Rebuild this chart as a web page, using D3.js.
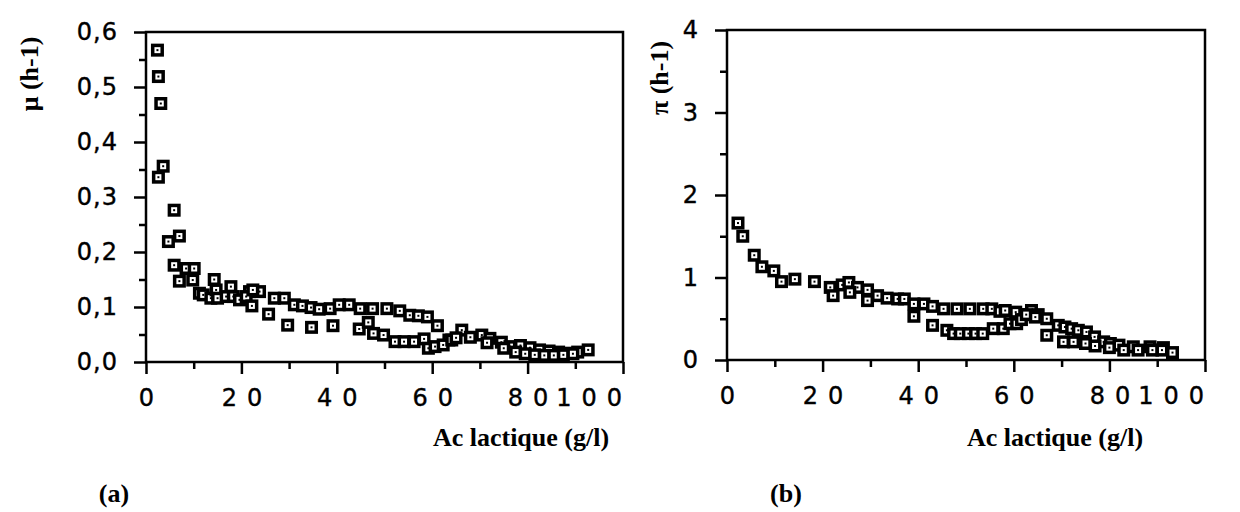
<!DOCTYPE html>
<html><head><meta charset="utf-8">
<script src="https://cdn.jsdelivr.net/npm/d3@7"></script>
<style>
html,body{margin:0;padding:0;background:#fff;}
svg{display:block;}
</style></head>
<body>
<svg id="chart" width="1240" height="512"></svg>
<script>
// ---------- DATA ----------
// Panel (a): mu (h-1) vs acide lactique (g/l), two runs
const muRun1 = [[2.4,0.567],[2.6,0.519],[3.1,0.470],[3.6,0.356],[5.9,0.276],[7.0,0.229],[8.4,0.170],[10.1,0.170],[14.3,0.150],[17.8,0.137],[21.7,0.128],[23.8,0.128],[26.9,0.116],[29.0,0.116],[31.1,0.104],[32.8,0.102],[34.6,0.099],[36.3,0.096],[38.6,0.097],[40.5,0.104],[42.6,0.104],[44.9,0.097],[47.5,0.097],[50.5,0.097],[53.2,0.093],[55.3,0.085],[57.1,0.084],[59.0,0.082],[61.1,0.066],[63.5,0.040],[66.2,0.058],[70.4,0.049],[72.1,0.043],[74.5,0.036],[76.3,0.028],[78.5,0.030],[80.5,0.026],[82.5,0.022],[84.5,0.020],[86.5,0.018],[88.5,0.016],[90.5,0.018],[92.7,0.022]];
const muRun2 = [[2.6,0.336],[4.7,0.219],[5.9,0.176],[7.0,0.147],[9.8,0.149],[11.2,0.125],[12.0,0.122],[13.6,0.116],[14.7,0.131],[15.0,0.116],[16.8,0.119],[18.3,0.119],[19.6,0.113],[21.0,0.119],[22.2,0.102],[22.4,0.131],[25.7,0.087],[29.7,0.067],[34.7,0.063],[39.2,0.066],[44.7,0.060],[46.6,0.072],[47.7,0.052],[49.8,0.049],[52.2,0.037],[54.1,0.037],[56.2,0.037],[58.3,0.042],[59.2,0.025],[60.6,0.028],[62.3,0.031],[64.1,0.040],[65.0,0.044],[68.0,0.045],[71.5,0.035],[75.0,0.025],[77.5,0.018],[79.5,0.015],[81.5,0.013],[83.5,0.012],[85.5,0.012],[87.5,0.013],[89.5,0.015]];
// Panel (b): pi (h-1) vs acide lactique (g/l), two runs
const piRun1 = [[2.3,1.66],[3.3,1.50],[5.7,1.27],[7.3,1.13],[9.8,1.08],[11.4,0.95],[14.2,0.98],[18.3,0.95],[21.6,0.88],[24.1,0.91],[25.5,0.94],[27.3,0.88],[29.4,0.85],[31.5,0.78],[33.5,0.75],[35.7,0.74],[37.1,0.74],[39.1,0.68],[41.2,0.68],[43.0,0.65],[45.3,0.62],[48.1,0.62],[50.8,0.62],[53.6,0.62],[55.4,0.62],[57.1,0.59],[58.2,0.60],[60.4,0.58],[62.3,0.55],[63.7,0.60],[65.1,0.55],[66.9,0.50],[69.3,0.42],[70.7,0.40],[72.1,0.38],[73.5,0.36],[75.2,0.34],[76.9,0.28],[78.8,0.22],[80.2,0.20],[82.0,0.18],[85.0,0.16],[88.5,0.16],[91.3,0.15],[93.2,0.09]];
const piRun2 = [[22.2,0.78],[25.7,0.82],[29.4,0.72],[39.1,0.53],[43.0,0.42],[46.0,0.36],[47.4,0.32],[48.8,0.32],[50.5,0.32],[52.0,0.32],[53.5,0.32],[55.7,0.38],[57.8,0.38],[59.2,0.44],[60.6,0.44],[61.6,0.49],[62.6,0.55],[64.5,0.52],[66.9,0.30],[70.4,0.22],[72.5,0.22],[75.0,0.20],[77.0,0.17],[80.0,0.15],[83.0,0.12],[86.0,0.12],[89.0,0.12],[91.0,0.12]];

const xTicks = [0,20,40,60,80,100];
const xMinor = [10,30,50,70,90];
const muTicks = [0,0.1,0.2,0.3,0.4,0.5,0.6];
const muMinor = [0.05,0.15,0.25,0.35,0.45,0.55];
const piTicks = [0,1,2,3,4];
const piMinor = [0.5,1.5,2.5,3.5];
const xTitle = "Ac lactique (g/l)";
const muTitle = "\u03bc (h-1)";
const piTitle = "\u03c0 (h-1)";
const panelLabels = ["(a)","(b)"];

// ---------- LAYOUT ----------
const svg = d3.select("#chart");
const frFmt = d3.formatLocale({decimal:",",thousands:" ",grouping:[3],currency:["","\u20ac"]});
const fmtMu = frFmt.format(".1f");
const fmtPi = d => String(d);

const panels = [
  {series:[muRun1,muRun2], left:146, right:623, top:32, bottom:362, yDomain:[0,0.6],
   yTicks:muTicks, yMinor:muMinor, yFmt:fmtMu, yTitle:muTitle, yTitleX:29, yTitleY:74,
   xTitleX:521, label:panelLabels[0], labelX:114},
  {series:[piRun1,piRun2], left:727, right:1205, top:30, bottom:360, yDomain:[0,4],
   yTicks:piTicks, yMinor:piMinor, yFmt:fmtPi, yTitle:piTitle, yTitleX:659, yTitleY:78,
   xTitleX:1055, label:panelLabels[1], labelX:786}
];

const tickFont = "'DejaVu Sans', sans-serif";
const serif = "'Liberation Serif', 'Times New Roman', serif";
const xSpacing = 10;

panels.forEach(p => {
  const x = d3.scaleLinear().domain([0,100]).range([p.left,p.right]);
  const y = d3.scaleLinear().domain(p.yDomain).range([p.bottom,p.top]);
  const g = svg.append("g");

  // minor ticks
  g.append("g").attr("transform",`translate(0,${p.bottom})`)
    .call(d3.axisBottom(x).tickValues(xMinor).tickSize(7).tickFormat(""))
    .call(a=>a.select(".domain").remove())
    .call(a=>a.selectAll("line").attr("stroke","#000").attr("stroke-width",2.5));
  g.append("g").attr("transform",`translate(${p.left},0)`)
    .call(d3.axisLeft(y).tickValues(p.yMinor).tickSize(7).tickFormat(""))
    .call(a=>a.select(".domain").remove())
    .call(a=>a.selectAll("line").attr("stroke","#000").attr("stroke-width",2.5));

  // major ticks + labels
  const xa = g.append("g").attr("transform",`translate(0,${p.bottom})`)
    .call(d3.axisBottom(x).tickValues(xTicks).tickSize(12).tickPadding(15).tickFormat(d3.format("d")))
    .call(a=>a.select(".domain").remove())
    .call(a=>a.selectAll("line").attr("stroke","#000").attr("stroke-width",2.5));
  xa.selectAll("text").attr("fill","#000").attr("stroke","#000").attr("stroke-width",0.4)
    .style("font-family",tickFont).style("font-size","24px")
    .style("letter-spacing",xSpacing+"px").attr("dy","0.71em")
    .attr("text-anchor", d => d===100 ? "end" : "middle")
    .attr("dx", d => d===100 ? "8.5px" : (xSpacing/2)+"px");

  const ya = g.append("g").attr("transform",`translate(${p.left},0)`)
    .call(d3.axisLeft(y).tickValues(p.yTicks).tickSize(12).tickPadding(16).tickFormat(p.yFmt))
    .call(a=>a.select(".domain").remove())
    .call(a=>a.selectAll("line").attr("stroke","#000").attr("stroke-width",2.5));
  ya.selectAll("text").attr("fill","#000").attr("stroke","#000").attr("stroke-width",0.4)
    .style("font-family",tickFont).style("font-size","24px")
    .style("letter-spacing","1px");

  // frame
  g.append("rect").attr("x",p.left).attr("y",p.top)
    .attr("width",p.right-p.left).attr("height",p.bottom-p.top)
    .attr("fill","none").attr("stroke","#000").attr("stroke-width",2.5);

  // markers
  const pts = p.series.flat();
  const m = g.append("g").selectAll("g").data(pts).join("g")
    .attr("transform", d => `translate(${x(d[0])},${y(d[1])})`);
  m.append("rect").attr("x",-6.5).attr("y",-6.5).attr("width",13).attr("height",13).attr("fill","#000");
  m.append("rect").attr("x",-3).attr("y",-3).attr("width",6).attr("height",6).attr("fill","#fff");
  m.append("rect").attr("x",-1).attr("y",-1).attr("width",2).attr("height",2).attr("fill","#000");

  // titles
  g.append("text").attr("x",p.xTitleX).attr("y",446).attr("text-anchor","middle")
    .style("font-family",serif).style("font-weight","bold").style("font-size","26px").text(xTitle);
  g.append("text").attr("transform",`translate(${p.yTitleX},${p.yTitleY}) rotate(-90)`)
    .attr("text-anchor","middle").attr("dy","0.35em")
    .style("font-family",serif).style("font-weight","bold").style("font-size","26px").text(p.yTitle);
  g.append("text").attr("x",p.labelX).attr("y",502).attr("text-anchor","middle")
    .style("font-family",serif).style("font-weight","bold").style("font-size","26px").text(p.label);
});
</script>
</body></html>
